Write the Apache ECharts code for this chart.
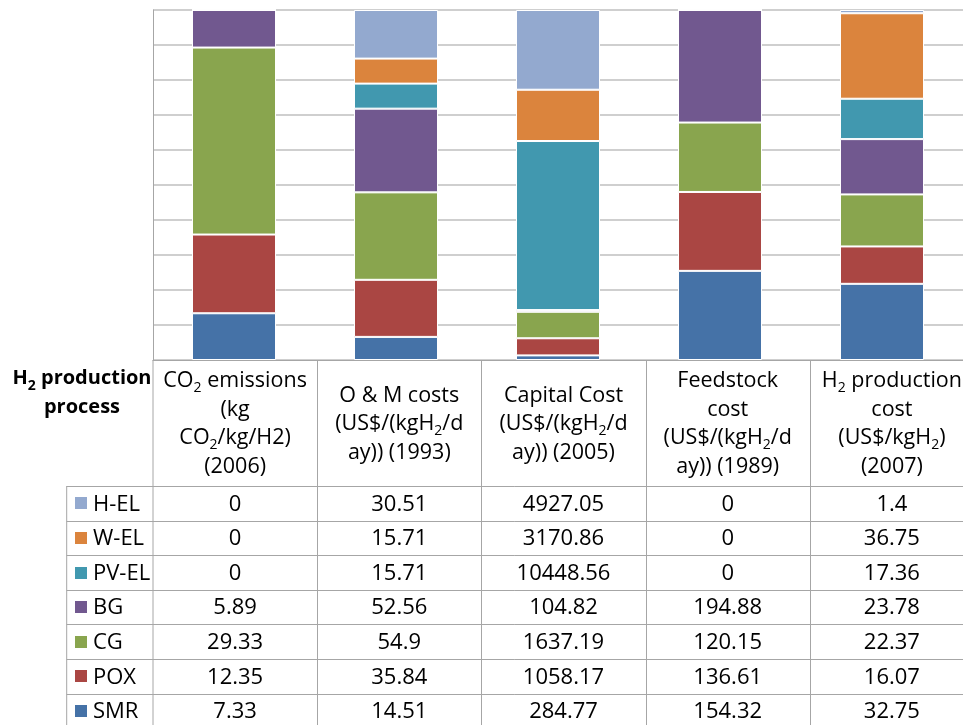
<!DOCTYPE html>
<html>
<head>
<meta charset="utf-8">
<script src="https://cdn.jsdelivr.net/npm/echarts@6/dist/echarts.min.js"></script>
<style>
html,body{margin:0;padding:0;background:#fff;}
#main{width:963px;height:725px;}
</style>
</head>
<body>
<div id="main"></div>
<script>
// ---- data ----
const categories = [
  'CO{s|2} emissions\n(kg\nCO{s|2}/kg/H2)\n(2006)',
  'O & M costs\n(US$/(kgH{s|2}/d\nay)) (1993)',
  'Capital Cost\n(US$/(kgH{s|2}/d\nay)) (2005)',
  'Feedstock\ncost\n(US$/(kgH{s|2}/d\nay)) (1989)',
  'H{s|2} production\ncost\n(US$/kgH{s|2})\n(2007)'
];
const rowHeader = 'H{sb|2} production\nprocess';
const seriesNames = ['SMR', 'POX', 'CG', 'BG', 'PV-EL', 'W-EL', 'H-EL'];
const seriesColors = ['#4572A7', '#AA4643', '#89A54E', '#71588F', '#4198AF', '#DB843D', '#93A9CF'];
const SMR   = [7.33, 14.51, 284.77, 154.32, 32.75];
const POX   = [12.35, 35.84, 1058.17, 136.61, 16.07];
const CG    = [29.33, 54.9, 1637.19, 120.15, 22.37];
const BG    = [5.89, 52.56, 104.82, 194.88, 23.78];
const PV_EL = [0, 15.71, 10448.56, 0, 17.36];
const W_EL  = [0, 15.71, 3170.86, 0, 36.75];
const H_EL  = [0, 30.51, 4927.05, 0, 1.4];
const seriesValues = [SMR, POX, CG, BG, PV_EL, W_EL, H_EL];

// ---- layout ----
const FONT = '"Open Sans"';
const FS_HEAD = 21.5;
const FS_CELL = 22;
const GRID_LEFT = 153, GRID_TOP = 10, GRID_W = 821, GRID_H = 350;
const COL_W = GRID_W / categories.length;
const AXIS_Y = GRID_TOP + GRID_H;
const HEADER_BOTTOM = 486;
const ROW_H = 34.6;
const LEG_LEFT = 66.7;
const LINE_COLOR = '#a6a6a6';
const GRID_COLOR = '#bfbfbf';

// totals for 100% stacking
const totals = categories.map((c, i) => seriesValues.reduce((s, arr) => s + arr[i], 0));

const series = seriesNames.map((name, k) => ({
  name: name,
  type: 'bar',
  stack: 'total',
  barWidth: 84,
  itemStyle: { color: seriesColors[k], borderColor: '#ffffff', borderWidth: 1 },
  emphasis: { disabled: true },
  data: seriesValues[k].map((v, i) => v / totals[i] * 100)
}));

const textRich = {
  s: { fontSize: 14, lineHeight: 16, verticalAlign: 'bottom', fontFamily: FONT, fill: '#000' },
  sb: { fontSize: 14, lineHeight: 16, verticalAlign: 'bottom', fontFamily: FONT, fontWeight: 'bold', fill: '#000' }
};

const graphic = [];
const H = 725, W = 963;
// vertical table lines
graphic.push({ type: 'line', shape: { x1: GRID_LEFT, y1: AXIS_Y, x2: GRID_LEFT, y2: H }, style: { stroke: LINE_COLOR, lineWidth: 1 } });
for (let i = 1; i < categories.length; i++) {
  const x = Math.round(GRID_LEFT + i * COL_W) + 0.5;
  graphic.push({ type: 'line', shape: { x1: x, y1: AXIS_Y, x2: x, y2: H }, style: { stroke: LINE_COLOR, lineWidth: 1 } });
}
graphic.push({ type: 'line', shape: { x1: LEG_LEFT, y1: HEADER_BOTTOM, x2: LEG_LEFT, y2: H }, style: { stroke: LINE_COLOR, lineWidth: 1 } });
// horizontal table lines
const rowNames = seriesNames.slice().reverse();
const rowColors = seriesColors.slice().reverse();
const rowValues = seriesValues.slice().reverse();
for (let r = 0; r <= rowNames.length; r++) {
  const y = Math.round(HEADER_BOTTOM + r * ROW_H) + 0.5;
  graphic.push({ type: 'line', shape: { x1: LEG_LEFT, y1: y, x2: W, y2: y }, style: { stroke: LINE_COLOR, lineWidth: 1 } });
}
// header texts
categories.forEach((c, i) => {
  graphic.push({
    type: 'text',
    style: {
      x: GRID_LEFT + (i + 0.5) * COL_W, y: (AXIS_Y + HEADER_BOTTOM) / 2 + 1,
      text: c, align: 'center', verticalAlign: 'middle',
      fontFamily: FONT, fontSize: FS_HEAD, lineHeight: 28.5, fill: '#000', rich: textRich
    }
  });
});
graphic.push({
  type: 'text',
  style: {
    x: 82, y: 364, text: rowHeader, align: 'center', verticalAlign: 'top',
    fontFamily: FONT, fontSize: 20, fontWeight: 'bold', lineHeight: 29, fill: '#000', rich: textRich
  }
});
// rows
rowNames.forEach((name, r) => {
  const cy = HEADER_BOTTOM + (r + 0.5) * ROW_H;
  graphic.push({ type: 'rect', shape: { x: 75, y: Math.round(cy - 6), width: 12, height: 12 }, style: { fill: rowColors[r] } });
  graphic.push({ type: 'text', style: { x: 93, y: cy + 1, text: name, align: 'left', verticalAlign: 'middle', fontFamily: FONT, fontSize: FS_CELL, fill: '#000' } });
  rowValues[r].forEach((v, i) => {
    graphic.push({ type: 'text', style: { x: GRID_LEFT + (i + 0.5) * COL_W, y: cy + 1, text: String(v), align: 'center', verticalAlign: 'middle', fontFamily: FONT, fontSize: FS_CELL, fill: '#000' } });
  });
});

const chart = echarts.init(document.getElementById('main'), null, { renderer: 'canvas' });
chart.setOption({
  animation: false,
  backgroundColor: '#fff',
  grid: { left: GRID_LEFT, top: GRID_TOP, width: GRID_W, height: GRID_H, containLabel: false },
  legend: { show: false },
  tooltip: { show: false },
  xAxis: {
    type: 'category',
    data: categories,
    axisLabel: { show: false },
    axisTick: { show: false },
    axisLine: { lineStyle: { color: LINE_COLOR, width: 1 } }
  },
  yAxis: {
    type: 'value',
    min: 0, max: 100, interval: 10,
    axisLabel: { show: false },
    axisTick: { show: false },
    axisLine: { show: true, lineStyle: { color: LINE_COLOR, width: 1 } },
    splitLine: { lineStyle: { color: GRID_COLOR, width: 1.5 } }
  },
  series: series,
  graphic: graphic
});
</script>
</body>
</html>
